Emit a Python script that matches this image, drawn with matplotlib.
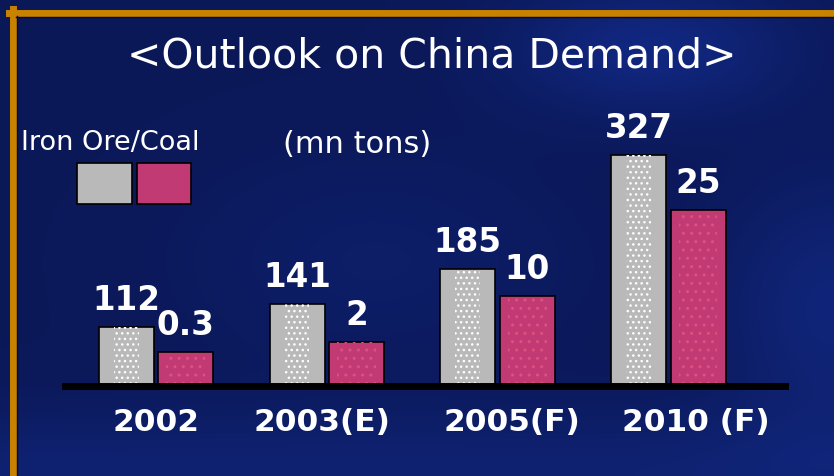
import matplotlib.pyplot as plt
import numpy as np
from matplotlib.lines import Line2D
from matplotlib.patches import Rectangle

years = ["2002", "2003(E)", "2005(F)", "2010 (F)"]
iron_ore = [112, 141, 185, 327]
coal = [0.3, 2, 10, 25]

W, H = 834, 476
navy = "#0b1a5c"
grey = "#b9b9b9"
pink = "#c23a74"
gold = "#c88200"


def fx(px):
    return px / W


def fy(py):
    return 1 - py / H


fig = plt.figure(figsize=(W / 100, H / 100), dpi=100)
fig.patch.set_facecolor(navy)

# soft blue backdrop, lighter towards the right
bg = fig.add_axes([0, 0, 1, 1])
yy, xx = np.mgrid[0:1:240j, 0:1:420j]
glow = (0.55 * np.exp(-((xx - 0.78) ** 2 / 0.03 + (yy - 0.9) ** 2 / 0.02))
        + 0.45 * np.exp(-((xx - 1.0) ** 2 / 0.02 + (yy - 0.35) ** 2 / 0.08))
        + 0.35 * np.exp(-((yy - 0.0) ** 2 / 0.02))
        + 0.2 * np.exp(-((xx - 0.45) ** 2 / 0.06 + (yy - 0.45) ** 2 / 0.06)))
base = np.array([11, 24, 88]) / 255
light = np.array([22, 52, 160]) / 255
img = base + np.clip(glow, 0, 1)[..., None] * (light - base)
bg.imshow(img, extent=[0, 1, 0, 1], origin="lower", aspect="auto")
bg.axis("off")

# frame along the top and left
fig.add_artist(Line2D([fx(9), 1], [fy(12.5), fy(12.5)], color=gold, lw=5))
fig.add_artist(Line2D([fx(12.5), fx(12.5)], [0, fy(9)], color=gold, lw=5))
fig.add_artist(Line2D([fx(16), 1], [fy(16.5), fy(16.5)], color="#050a25", lw=1))
fig.add_artist(Line2D([fx(16.5), fx(16.5)], [0, fy(16)], color="#050a25", lw=1))

ax = fig.add_axes([fx(65), fy(386), fx(720), 276 / H])
ax2 = ax.twinx()
for a in (ax, ax2):
    a.patch.set_visible(False)
    for s in a.spines.values():
        s.set_visible(False)
    a.set_yticks([])

x = np.arange(len(years))
off = 0.174
w = 0.322

# separate scales: iron ore on ax, coal on ax2
iron_lo, iron_hi = 38.7, 383.1
coal_lo, coal_hi = -5.67, 42.3
coal_h = np.array(coal) - coal_lo

ax.bar(x - off, iron_ore, width=w, color=grey, edgecolor="black", lw=1.2)
ax.bar(x - off, iron_ore, width=w * 0.45, color="none", edgecolor="white",
       lw=0, hatch="...")
ax2.bar(x + off, coal_h, bottom=coal_lo, width=w, color=pink,
        edgecolor="black", lw=1.2)
ax2.bar(x + off, coal_h, bottom=coal_lo, width=w * 0.7, color="none",
        edgecolor="#e0507f", lw=0, hatch="..")

ax.set_xlim(-0.533, 3.683)
ax.set_ylim(iron_lo, iron_hi)
ax2.set_ylim(coal_lo, coal_hi)

ax2.spines["bottom"].set_visible(True)
ax2.spines["bottom"].set_linewidth(5)
ax2.spines["bottom"].set_color("black")

# year labels under each pair, nudged a little to the right on the later years
ax.set_xticks([])
nudge = [0, -3.6, 10, 20]
for i in range(len(years)):
    ax.annotate(years[i], xy=(x[i], 0), xycoords=ax.get_xaxis_transform(),
                xytext=(nudge[i], -15.5), textcoords="offset points",
                ha="center", va="top", color="white", fontsize=22.5,
                fontweight="bold")

for i in range(len(years)):
    ax.annotate(f"{iron_ore[i]:g}", xy=(x[i] - off, iron_ore[i]),
                xytext=(0, 12.2), textcoords="offset points", ha="center",
                va="baseline", color="white", fontsize=23.5, fontweight="bold")
    ax2.annotate(f"{coal[i]:g}", xy=(x[i] + off, coal[i]),
                 xytext=(0, 12.2), textcoords="offset points", ha="center",
                 va="baseline", color="white", fontsize=23.5, fontweight="bold")

fig.text(fx(432), fy(67), "<Outlook on China Demand>", ha="center",
         va="baseline", color="white", fontsize=29.5)
fig.text(fx(110), fy(150), "Iron Ore/Coal", ha="center", va="baseline",
         color="white", fontsize=19.5)
fig.text(fx(357), fy(153), "(mn tons)", ha="center", va="baseline",
         color="white", fontsize=22)

# legend swatches
fig.add_artist(Rectangle((fx(77), fy(204)), fx(55), 41 / H,
                         transform=fig.transFigure, fc=grey, ec="black", lw=1.2))
fig.add_artist(Rectangle((fx(137), fy(204)), fx(54), 41 / H,
                         transform=fig.transFigure, fc=pink, ec="black", lw=1.2))

fig.savefig("out.png", dpi=100, facecolor=fig.get_facecolor())
